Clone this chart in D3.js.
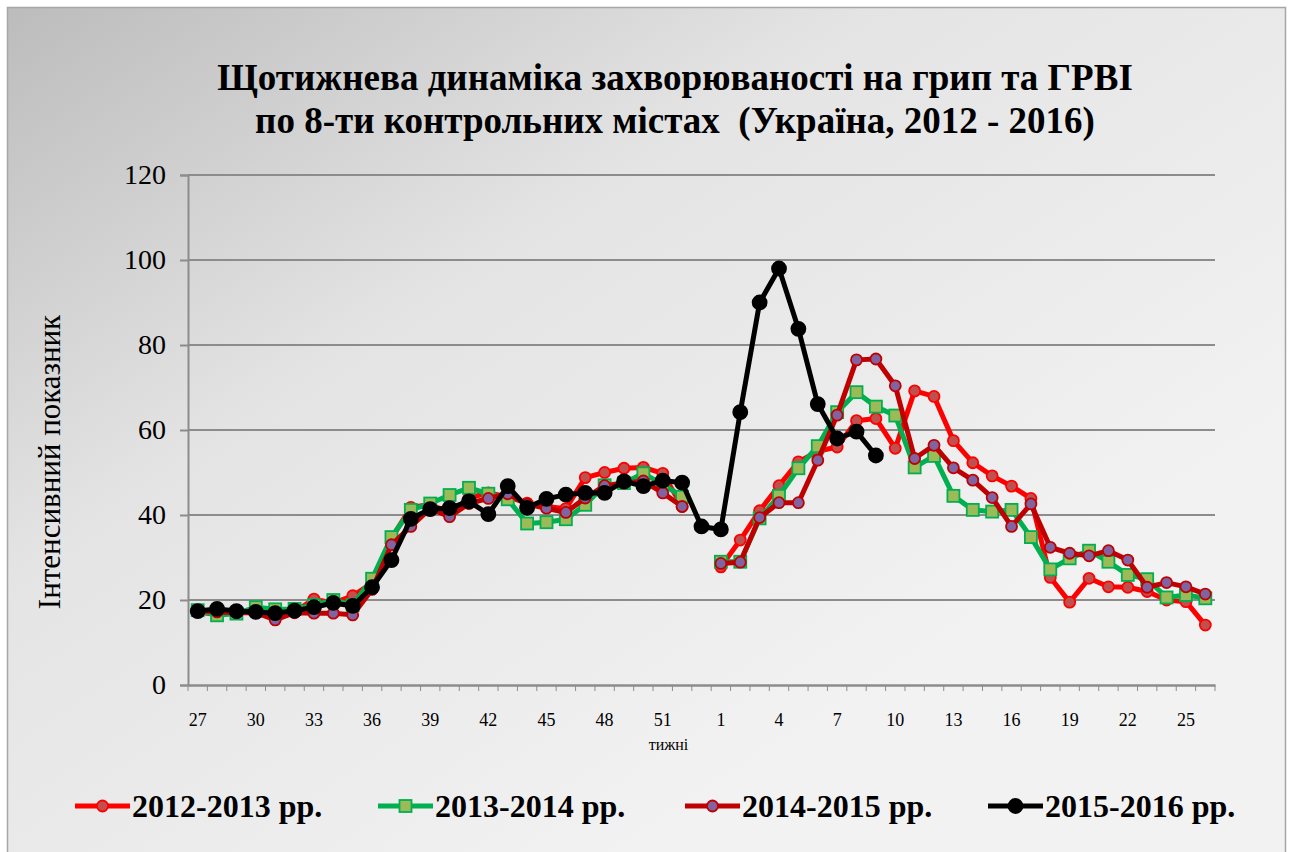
<!DOCTYPE html>
<html>
<head>
<meta charset="utf-8">
<script src="https://cdnjs.cloudflare.com/ajax/libs/d3/7.8.5/d3.min.js"></script>
<style>
  body { margin: 0; background: #ffffff; }
  svg { display: block; }
</style>
</head>
<body>
<script>
// weeks of the epidemic season (week 53 only exists in 2015)
var weeks = [27, 28, 29, 30, 31, 32, 33, 34, 35, 36, 37, 38, 39, 40, 41, 42, 43, 44, 45, 46, 47, 48, 49, 50, 51, 52, 53,
             1, 2, 3, 4, 5, 6, 7, 8, 9, 10, 11, 12, 13, 14, 15, 16, 17, 18, 19, 20, 21, 22, 23, 24, 25, 26];

var tickWeeks = [27, 30, 33, 36, 39, 42, 45, 48, 51, 1, 4, 7, 10, 13, 16, 19, 22, 25];
var yTicks = [0, 20, 40, 60, 80, 100, 120];

var season1213 = [17.2, 16.6, 17.0, 17.5, 15.8, 17.2, 20.2, 19.3, 21.0, 24.0, 34.5, 41.8, 42.5, 40.5, 44.0, 45.2, 44.3, 42.8, 42.0, 41.5, 48.8, 50.0, 51.0, 51.2, 49.8, 42.0, null,
                  27.8, 34.1, 41.0, 46.9, 52.5, 55.0, 56.0, 62.2, 62.7, 55.7, 69.2, 67.9, 57.5, 52.3, 49.2, 46.8, 43.9, 25.3, 19.5, 25.1, 23.1, 23.0, 22.0, 20.0, 19.6, 14.1];

var season1314 = [17.6, 16.4, 16.8, 18.3, 17.8, 17.9, 18.8, 20.0, 18.8, 25.0, 34.8, 41.2, 42.7, 44.7, 46.4, 45.0, 43.7, 38.0, 38.3, 39.0, 42.4, 47.0, 47.5, 49.8, 47.2, 44.3, null,
                  29.0, 29.0, 39.2, 44.5, 51.0, 56.2, 64.2, 68.9, 65.5, 63.4, 51.2, 53.9, 44.5, 41.2, 40.8, 41.2, 34.8, 27.2, 29.8, 31.6, 29.0, 25.9, 24.9, 20.6, 21.2, 20.4];

var season1415 = [17.5, 17.2, 17.0, 17.0, 15.3, 17.0, 16.9, 16.9, 16.5, 22.5, 33.0, 37.3, 41.5, 39.6, 42.7, 43.9, 45.0, 42.5, 41.6, 40.6, 44.0, 46.9, 47.5, 48.0, 45.2, 42.0, null,
                  28.6, 28.9, 39.4, 42.9, 42.9, 52.9, 63.5, 76.5, 76.7, 70.4, 53.3, 56.4, 51.1, 48.2, 44.1, 37.3, 42.6, 32.4, 31.0, 30.4, 31.6, 29.4, 23.0, 24.1, 23.1, 21.4];

var season1516 = [17.4, 17.9, 17.4, 17.2, 16.9, 17.5, 18.3, 19.3, 18.6, 23.0, 29.4, 39.1, 41.4, 41.6, 43.2, 40.2, 46.8, 41.7, 43.8, 44.8, 45.2, 45.2, 47.9, 46.8, 48.1, 47.6, 37.3,
                  36.6, 64.2, 90.0, 98.0, 83.8, 66.1, 58.0, 59.6, 54.0, null, null, null, null, null, null, null, null, null, null, null, null, null, null, null, null, null];

var seasonNames = ['2012-2013 рр.', '2013-2014 рр.', '2014-2015 рр.', '2015-2016 рр.'];

var series = [
    { name: seasonNames[0], values: season1213, line: '#ff0000', fill: '#c0504d', stroke: '#ff0000', shape: 'circle', r: 5.5 },
    { name: seasonNames[1], values: season1314, line: '#00b050', fill: '#9bbb59', stroke: '#00b050', shape: 'square', r: 6 },
    { name: seasonNames[2], values: season1415, line: '#c00000', fill: '#8064a2', stroke: '#c00000', shape: 'circle', r: 5.5 },
    { name: seasonNames[3], values: season1516, line: '#000000', fill: '#000000', stroke: '#000000', shape: 'circle', r: 7 }
];

var W = 1293, H = 852;
var margin = { top: 175, right: 78, bottom: 167, left: 188 };
var width = W - margin.left - margin.right,
    height = H - margin.top - margin.bottom;

var serif = '"Liberation Serif", "Times New Roman", serif';

var svg = d3.select('body').append('svg')
    .attr('width', W)
    .attr('height', H);

// background gradient like the original slide
var defs = svg.append('defs');
var grad = defs.append('linearGradient')
    .attr('id', 'bg')
    .attr('x1', '0').attr('y1', '0')
    .attr('x2', '0.75').attr('y2', '0.75');
grad.append('stop').attr('offset', '0').attr('stop-color', '#bcbcbc');
grad.append('stop').attr('offset', '0.45').attr('stop-color', '#e4e4e4');
grad.append('stop').attr('offset', '1').attr('stop-color', '#f2f2f2');

svg.append('rect')
    .attr('x', 7.5).attr('y', 7.5)
    .attr('width', W - 15).attr('height', H - 6)
    .attr('fill', 'url(#bg)')
    .attr('stroke', '#a6a6a6')
    .attr('stroke-width', 1.5);

// title
var title = svg.append('text')
    .attr('text-anchor', 'middle')
    .style('font-family', serif)
    .style('font-weight', 'bold')
    .style('font-size', '37px')
    .style('white-space', 'pre')
    .attr('fill', '#000');
title.append('tspan').attr('x', 675).attr('y', 90).text('Щотижнева динаміка захворюваності на грип та ГРВІ');
title.append('tspan').attr('x', 675).attr('y', 133).text('по 8-ти контрольних містах  (Україна, 2012 - 2016)');

var g = svg.append('g')
    .attr('transform', 'translate(' + margin.left + ',' + margin.top + ')');

var x = d3.scaleBand()
    .domain(weeks)
    .range([0, width])
    .padding(0);

var y = d3.scaleLinear()
    .domain([0, 120])
    .range([height, 0]);

function cx(i) { return x(weeks[i]) + x.bandwidth() / 2; }

// grid lines
g.append('g')
    .selectAll('line')
    .data(yTicks.filter(function (d) { return d > 0; }))
    .enter().append('line')
    .attr('x1', 0)
    .attr('x2', width)
    .attr('y1', function (d) { return y(d); })
    .attr('y2', function (d) { return y(d); })
    .attr('stroke', '#8c8c8c')
    .attr('stroke-width', 2);

// y axis
var yAxis = g.append('g')
    .call(d3.axisLeft(y).tickValues(yTicks).tickSize(8).tickPadding(14));
yAxis.select('.domain').attr('stroke', '#8c8c8c').attr('stroke-width', 2);
yAxis.selectAll('.tick line').attr('stroke', '#8c8c8c').attr('stroke-width', 2);
yAxis.selectAll('.tick text')
    .style('font-family', serif)
    .style('font-size', '28px')
    .attr('fill', '#000');

// x axis: labels every 3rd week, tick marks on category boundaries
var xAxis = g.append('g')
    .attr('transform', 'translate(0,' + height + ')')
    .call(d3.axisBottom(x).tickValues(tickWeeks).tickSize(0).tickPadding(28));
xAxis.select('.domain').attr('stroke', '#8c8c8c').attr('stroke-width', 2.5);
xAxis.selectAll('.tick text')
    .style('font-family', serif)
    .style('font-size', '18px')
    .attr('fill', '#000');

xAxis.selectAll('.bnd')
    .data(d3.range(weeks.length + 1))
    .enter().append('line')
    .attr('class', 'bnd')
    .attr('x1', function (i) { return i * x.step(); })
    .attr('x2', function (i) { return i * x.step(); })
    .attr('y1', 0)
    .attr('y2', 6)
    .attr('stroke', '#8c8c8c')
    .attr('stroke-width', 1);

// axis titles
svg.append('text')
    .attr('x', margin.left + width / 2 - 33)
    .attr('y', 750)
    .attr('text-anchor', 'middle')
    .style('font-family', serif)
    .style('font-size', '16px')
    .text('тижні');

svg.append('text')
    .attr('transform', 'translate(60,462) rotate(-90)')
    .attr('text-anchor', 'middle')
    .style('font-family', serif)
    .style('font-size', '31px')
    .text('Інтенсивний показник');

// lines
var line = d3.line()
    .defined(function (d) { return d != null; })
    .x(function (d, i) { return cx(i); })
    .y(function (d) { return y(d); });

function drawMarker(sel, s) {
    if (s.shape === 'square') {
        sel.append('rect')
            .attr('x', -s.r).attr('y', -s.r)
            .attr('width', s.r * 2).attr('height', s.r * 2)
            .attr('fill', s.fill)
            .attr('stroke', s.stroke)
            .attr('stroke-width', 1.8);
    } else {
        sel.append('circle')
            .attr('r', s.r)
            .attr('fill', s.fill)
            .attr('stroke', s.stroke)
            .attr('stroke-width', 1.8);
    }
}

series.forEach(function (s) {
    var sg = g.append('g');
    sg.append('path')
        .datum(s.values)
        .attr('d', line)
        .attr('fill', 'none')
        .attr('stroke', s.line)
        .attr('stroke-width', 5)
        .attr('stroke-linejoin', 'round');

    var pts = s.values.map(function (v, i) { return { v: v, i: i }; })
        .filter(function (d) { return d.v != null; });

    sg.selectAll('.pt')
        .data(pts)
        .enter().append('g')
        .attr('class', 'pt')
        .attr('transform', function (d) { return 'translate(' + cx(d.i) + ',' + y(d.v) + ')'; })
        .each(function () { drawMarker(d3.select(this), s); });
});

// legend
var legendX = [75, 378, 685, 988];
var legend = svg.selectAll('.legend')
    .data(series)
    .enter().append('g')
    .attr('class', 'legend')
    .attr('transform', function (d, i) { return 'translate(' + legendX[i] + ',806)'; });

legend.append('line')
    .attr('x1', 0).attr('x2', 55)
    .attr('stroke', function (d) { return d.line; })
    .attr('stroke-width', 5);
legend.append('g')
    .attr('transform', 'translate(27.5,0)')
    .each(function (d) { drawMarker(d3.select(this), d); });
legend.append('text')
    .attr('x', 57)
    .attr('y', 11)
    .style('font-family', serif)
    .style('font-weight', 'bold')
    .style('font-size', '32px')
    .text(function (d) { return d.name; });
</script>
</body>
</html>
